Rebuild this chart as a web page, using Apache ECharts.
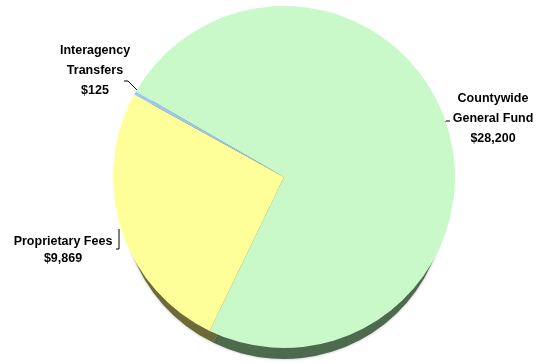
<!DOCTYPE html>
<html>
<head>
<meta charset="utf-8">
<script src="https://cdn.jsdelivr.net/npm/echarts@6/dist/echarts.min.js"></script>
<style>html,body{margin:0;padding:0;background:#fff}#c{width:538px;height:364px}</style>
</head>
<body>
<div id="c"></div>
<script>
const categories = ['Countywide\nGeneral Fund', 'Proprietary Fees', 'Interagency\nTransfers'];
const values = [28200, 9869, 125];
const faceColors = ['#c9f8c9', '#ffff99', '#9cc8f4'];
const sideColors = ['#4d6a4f', '#6d6939', '#3b5670'];

const labelPlaces = [
  { x: 493, y: 119, lineHeight: 20, pts: [[443, 124], [446, 121], [450, 121]] },
  { x: 63, y: 250, lineHeight: 17, pts: [[119, 229], [119, 249], [116, 249]] },
  { x: 95, y: 71, lineHeight: 20, pts: [[138, 91], [128, 81], [124, 81]] }
];

const faceData = categories.map((n, i) => ({
  name: n, value: values[i],
  itemStyle: { color: faceColors[i] },
  label: { lineHeight: labelPlaces[i].lineHeight }
}));
const sideData = categories.map((n, i) => ({
  name: n, value: values[i],
  itemStyle: { color: sideColors[i] }
}));

const chart = echarts.init(document.getElementById('c'), null, { renderer: 'canvas' });
chart.setOption({
  animation: false,
  series: [
    {
      type: 'pie', silent: true, z: 1,
      center: [284, 197], radius: 162, startAngle: 150, clockwise: true,
      label: { show: false }, labelLine: { show: false },
      itemStyle: { borderWidth: 0, shadowBlur: 3, shadowColor: 'rgba(0,0,0,0.3)' },
      data: sideData
    },
    {
      type: 'pie', silent: true, z: 2,
      center: [284, 177], radius: 171, startAngle: 150, clockwise: true,
      itemStyle: { borderWidth: 0 },
      label: {
        show: true, position: 'outside', color: '#000',
        fontFamily: 'Liberation Sans', fontWeight: 'bold', fontSize: 12.5,
        align: 'center', overflow: 'none',
        formatter: p => p.name + '\n$' + p.value.toLocaleString('en-US')
      },
      labelLine: { show: true, lineStyle: { color: '#000', width: 1 } },
      labelLayout: p => {
        const L = labelPlaces[p.dataIndex];
        return { x: L.x, y: L.y, align: 'center', verticalAlign: 'middle', labelLinePoints: L.pts };
      },
      data: faceData
    }
  ]
});
</script>
</body>
</html>
